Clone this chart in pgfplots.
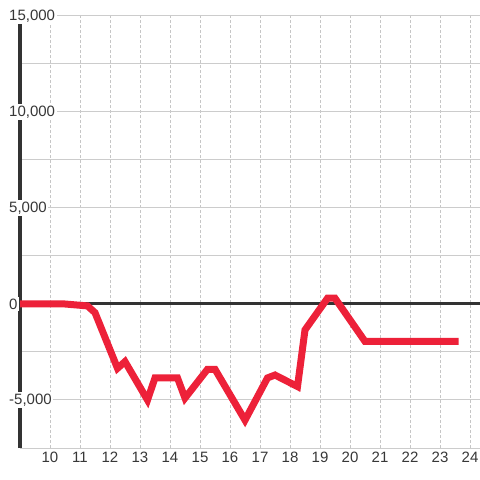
\documentclass[border=0pt]{standalone}
\usepackage{fontspec}
\setmainfont{Liberation Sans}
\usepackage{pgfplots}
\pgfplotsset{compat=1.18}
\definecolor{linered}{RGB}{237,33,57}
\definecolor{axdark}{RGB}{51,51,51}
\definecolor{gridgray}{RGB}{204,204,204}
\definecolor{labgray}{RGB}{55,55,55}

\begin{document}
\begin{tikzpicture}
\begin{axis}[
  set layers,
  at={(0,0)}, anchor=south west,
  width=460bp, height=432bp, scale only axis,
  xmin=9, xmax=24.3333, ymin=-7500, ymax=15000,
  axis x line*=bottom, axis y line*=left,
  x axis line style={-, draw=gridgray, line width=1bp},
  y axis line style={-, draw=axdark, line width=3bp},
  xtick={10,...,24}, ytick={-5000,0,5000,10000,15000},
  scaled y ticks=false,
  major tick length=0pt,
  xmajorgrids, ymajorgrids,
  x grid style={draw=gray!45, line width=0.9bp, dash pattern=on 2.5bp off 2.5bp},
  y grid style={draw=gridgray, line width=1bp},
  extra y ticks={-2500,2500,7500,12500},
  extra y tick labels={},
  extra y tick style={grid=major},
  font=\fontsize{15bp}{17bp}\selectfont,
  /pgf/number format/assume math mode=true,
  /pgf/number format/1000 sep={,},
  ticklabel style={text=labgray},
  yticklabel style={anchor=west, xshift=-12.5bp, fill=white, inner sep=1.5bp},
  xticklabel style={yshift=-1bp},
]
\draw[axdark, line width=3bp] (axis cs:9,0) -- (axis cs:24.3333,0);
\addplot[linered, line width=7bp, line cap=rect, line join=miter] coordinates {
  (9,0) (10.5,0) (11.25,-100) (11.5,-450) (12.25,-3350) (12.5,-3000)
  (13.25,-5000) (13.5,-3850) (14.25,-3850) (14.5,-4900) (15.25,-3400)
  (15.5,-3400) (16.5,-6050) (17.25,-3850) (17.5,-3700) (18.25,-4300)
  (18.5,-1350) (19.25,300) (19.5,300) (20.5,-1950) (23.5,-1950)
};
\end{axis}
\pgfresetboundingbox
\path[use as bounding box] (-20bp,-32bp) rectangle (460bp,448bp);
\end{tikzpicture}
\end{document}
